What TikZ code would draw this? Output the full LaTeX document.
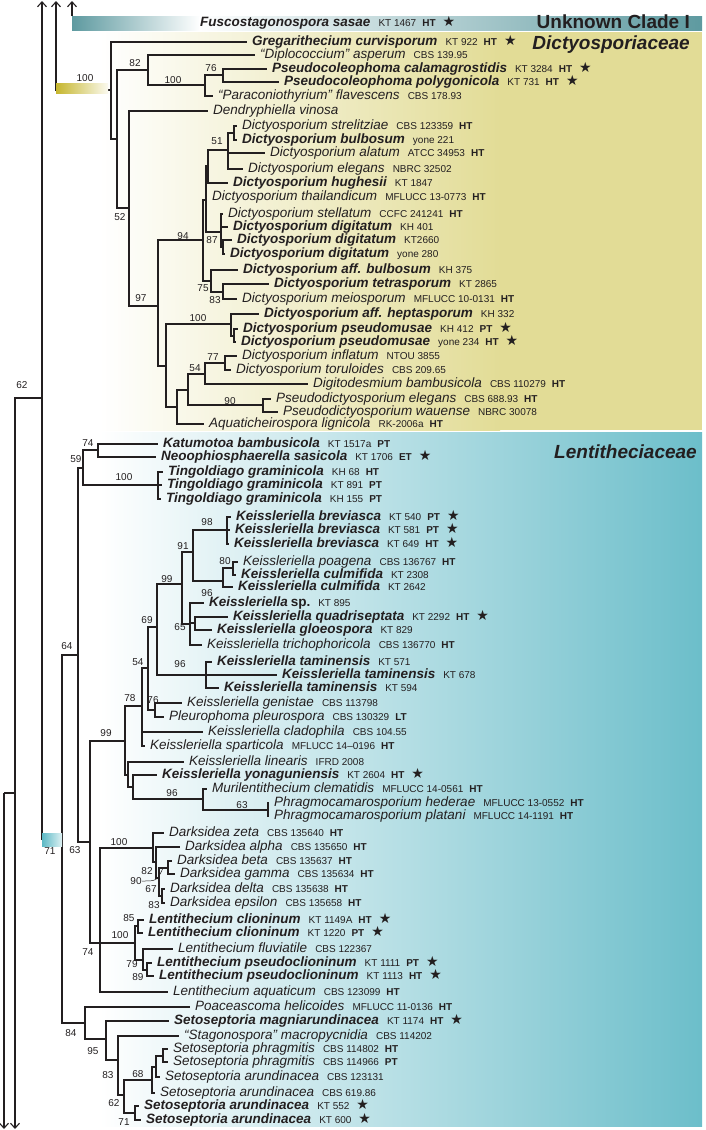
\documentclass[tikz,border=0pt]{standalone}
\usepackage{fontspec}
\setmainfont{Liberation Sans}
\newfontfamily\starfont{DejaVu Sans}
\usepackage{xcolor}
\usetikzlibrary{arrows.meta}

\definecolor{ink}{HTML}{231F20}
\definecolor{dictyel}{HTML}{E2DC96}
\definecolor{lentteal}{HTML}{6CBECA}
\definecolor{unkteal}{HTML}{5E9AA0}
\definecolor{baryel}{HTML}{C6B62E}
\definecolor{barteal}{HTML}{5CB9C5}

% taxon name parts
\newcommand{\tbn}[1]{{\fontsize{13.5}{15}\selectfont\bfseries\itshape #1}}
\newcommand{\tin}[1]{{\fontsize{13.5}{15}\selectfont\itshape #1}}
\newcommand{\tcd}[1]{\hspace{8pt}{\fontsize{10}{12}\selectfont #1}}
\newcommand{\ttp}[1]{\hspace{6pt}{\fontsize{10}{12}\selectfont\bfseries #1}}
\newcommand{\tst}{\hspace{7pt}{\starfont\fontsize{14}{12}\selectfont ★}}

\begin{document}
\begin{tikzpicture}[x=1pt, y=-1pt,
    branch/.style={draw=ink, line width=1.1pt},
    cut/.style={branch, -{Straight Barb[length=5pt,width=9pt]}},
    leaf/.style={anchor=west, inner xsep=5pt, inner ysep=0pt,
                 text height=9.5pt, text depth=2.5pt, text=ink},
    sup/.style={inner sep=0pt, text=ink, font=\fontsize{10}{12}\selectfont},
    fam/.style={anchor=east, inner sep=0pt, text=ink,
                font=\fontsize{19}{22}\selectfont\bfseries}]

    \useasboundingbox (0,0) rectangle (705,1130);

    % =================================================================
    % 1. BACKGROUND BOXES AND THE UNKNOWN CLADE BAR
    % =================================================================
    \shade[left color=white, right color=dictyel] (100,32) rectangle (500,430);
    \fill[dictyel] (499.5,32) rectangle (702,430);
    \shade[left color=white, right color=lentteal] (100,432) rectangle (702,1126);
    \shade[left color=unkteal, right color=white] (72,16) rectangle (200,30);
    \shade[left color=white, right color=unkteal] (199.5,16) rectangle (702,30);

    % =================================================================
    % 2. INTERNAL NODES
    % =================================================================
    % cut branches (continue outside the figure)
    \coordinate (tU) at (72,1);
    \coordinate (uStem) at (72,16);
    \coordinate (tD) at (56,1);
    \coordinate (tP) at (42,1);
    \coordinate (rootP) at (42,398);
    \coordinate (rootR) at (15,793);
    \coordinate (rootQ) at (4,793);
    \coordinate (bR) at (15,1129);
    \coordinate (bQ) at (4,1129);

    % Dictyosporiaceae
    \coordinate (nA) at (111,90);
    \coordinate (nB) at (117,139);
    \coordinate (n82) at (148,70);
    \coordinate (n100a) at (205,85);
    \coordinate (n76) at (223,75);
    \coordinate (n52) at (129,208);
    \coordinate (n97) at (158,306);
    \coordinate (n94) at (203,240);
    \coordinate (nQ) at (206,200);
    \coordinate (nH) at (208,166);
    \coordinate (n51) at (228,150);
    \coordinate (nSB) at (234,133);
    \coordinate (n87) at (221,232);
    \coordinate (nDig) at (223,247);
    \coordinate (n75) at (211,281);
    \coordinate (n83d) at (223,292);
    \coordinate (nZ) at (166,366);
    \coordinate (n100b) at (231,324);
    \coordinate (nPM) at (234,336);
    \coordinate (nY) at (177,407);
    \coordinate (nX) at (188,390);
    \coordinate (n54d) at (205,374);
    \coordinate (n77) at (225,363);
    \coordinate (n90) at (263,405);

    % Lentitheciaceae
    \coordinate (nL71) at (62,839);
    \coordinate (n64) at (78,655);
    \coordinate (n59) at (83,468);
    \coordinate (n74a) at (98,450);
    \coordinate (nTing) at (158,485);
    \coordinate (n63) at (90,842);
    \coordinate (n99) at (125,741);
    \coordinate (n78) at (142,706);
    \coordinate (n54) at (148,668);
    \coordinate (n69) at (157,627);
    \coordinate (n99k) at (182,584);
    \coordinate (n91) at (193,552);
    \coordinate (n98) at (227,530);
    \coordinate (n96k) at (223,581);
    \coordinate (n80) at (233,568);
    \coordinate (nK) at (190,624);
    \coordinate (n65) at (195,623);
    \coordinate (nTam) at (206,675);
    \coordinate (n76l) at (155,710);
    \coordinate (nLin) at (128,775);
    \coordinate (nS) at (133,787);
    \coordinate (n96) at (203,799);
    \coordinate (n63p) at (268,810);
    \coordinate (n74) at (100,943);
    \coordinate (nDark) at (153,848);
    \coordinate (nDa) at (156,862);
    \coordinate (n82l) at (159,878);
    \coordinate (nBG) at (168,868);
    \coordinate (nDE) at (162,896);
    \coordinate (lead90) at (163,868);
    \coordinate (nL100) at (135,943);
    \coordinate (nLc) at (138,926);
    \coordinate (nLf) at (143,960);
    \coordinate (nLp) at (147,970);
    \coordinate (n84) at (85,1023);
    \coordinate (n95) at (106,1039);
    \coordinate (n83s) at (118,1060);
    \coordinate (n62s) at (124,1095);
    \coordinate (n68) at (152,1080);
    \coordinate (nPh2) at (156,1067);
    \coordinate (nPh) at (163,1056);
    \coordinate (n71) at (135,1113);

    % =================================================================
    % 3. TAXA
    % =================================================================
    \node[leaf] (f0) at (195,23) {\tbn{Fuscostagonospora sasae}\tcd{KT 1467}\ttp{HT}\tst};

    \node[leaf] (d1) at (247,42) {\tbn{Gregarithecium curvisporum}\tcd{KT 922}\ttp{HT}\tst};
    \node[leaf] (d2) at (255,55) {\tin{“Diplococcium” asperum}\tcd{CBS 139.95}};
    \node[leaf] (d3) at (267,69) {\tbn{Pseudocoleophoma calamagrostidis}\tcd{KT 3284}\ttp{HT}\tst};
    \node[leaf] (d4) at (279,82) {\tbn{Pseudocoleophoma polygonicola}\tcd{KT 731}\ttp{HT}\tst};
    \node[leaf] (d5) at (213,96) {\tin{“Paraconiothyrium” flavescens}\tcd{CBS 178.93}};
    \node[leaf] (d6) at (208,111) {\tin{Dendryphiella vinosa}};
    \node[leaf] (d7) at (237,126) {\tin{Dictyosporium strelitziae}\tcd{CBS 123359}\ttp{HT}};
    \node[leaf] (d8) at (237,140) {\tbn{Dictyosporium bulbosum}\tcd{yone 221}};
    \node[leaf] (d9) at (265,153) {\tin{Dictyosporium alatum}\tcd{ATCC 34953}\ttp{HT}};
    \node[leaf] (d10) at (243,169) {\tin{Dictyosporium elegans}\tcd{NBRC 32502}};
    \node[leaf] (d11) at (228,183) {\tbn{Dictyosporium hughesii}\tcd{KT 1847}};
    \node[leaf] (d12) at (207,197) {\tin{Dictyosporium thailandicum}\tcd{MFLUCC 13-0773}\ttp{HT}};
    \node[leaf] (d13) at (223,214) {\tin{Dictyosporium stellatum}\tcd{CCFC 241241}\ttp{HT}};
    \node[leaf] (d14) at (228,227) {\tbn{Dictyosporium digitatum}\tcd{KH 401}};
    \node[leaf] (d15) at (232,240) {\tbn{Dictyosporium digitatum}\tcd{KT2660}};
    \node[leaf] (d16) at (225,254) {\tbn{Dictyosporium digitatum}\tcd{yone 280}};
    \node[leaf] (d17) at (238,270) {\tbn{Dictyosporium aff. bulbosum}\tcd{KH 375}};
    \node[leaf] (d18) at (269,284) {\tbn{Dictyosporium tetrasporum}\tcd{KT 2865}};
    \node[leaf] (d19) at (237,299) {\tin{Dictyosporium meiosporum}\tcd{MFLUCC 10-0131}\ttp{HT}};
    \node[leaf] (d20) at (259,314) {\tbn{Dictyosporium aff. heptasporum}\tcd{KH 332}};
    \node[leaf] (d21) at (238,329) {\tbn{Dictyosporium pseudomusae}\tcd{KH 412}\ttp{PT}\tst};
    \node[leaf] (d22) at (236,342) {\tbn{Dictyosporium pseudomusae}\tcd{yone 234}\ttp{HT}\tst};
    \node[leaf] (d23) at (237,356) {\tin{Dictyosporium inflatum}\tcd{NTOU 3855}};
    \node[leaf] (d24) at (231,370) {\tin{Dictyosporium toruloides}\tcd{CBS 209.65}};
    \node[leaf] (d25) at (308,384) {\tin{Digitodesmium bambusicola}\tcd{CBS 110279}\ttp{HT}};
    \node[leaf] (d26) at (271,399) {\tin{Pseudodictyosporium elegans}\tcd{CBS 688.93}\ttp{HT}};
    \node[leaf] (d27) at (278,412) {\tin{Pseudodictyosporium wauense}\tcd{NBRC 30078}};
    \node[leaf] (d28) at (204,424) {\tin{Aquaticheirospora lignicola}\tcd{RK-2006a}\ttp{HT}};

    \node[leaf] (l1) at (158,444) {\tbn{Katumotoa bambusicola}\tcd{KT 1517a}\ttp{PT}};
    \node[leaf] (l2) at (156,457) {\tbn{Neoophiosphaerella sasicola}\tcd{KT 1706}\ttp{ET}\tst};
    \node[leaf] (l3) at (163,472) {\tbn{Tingoldiago graminicola}\tcd{KH 68}\ttp{HT}};
    \node[leaf] (l4) at (162,485) {\tbn{Tingoldiago graminicola}\tcd{KT 891}\ttp{PT}};
    \node[leaf] (l5) at (161,499) {\tbn{Tingoldiago graminicola}\tcd{KH 155}\ttp{PT}};
    \node[leaf] (l6) at (231,517) {\tbn{Keissleriella breviasca}\tcd{KT 540}\ttp{PT}\tst};
    \node[leaf] (l7) at (230,530) {\tbn{Keissleriella breviasca}\tcd{KT 581}\ttp{PT}\tst};
    \node[leaf] (l8) at (229,544) {\tbn{Keissleriella breviasca}\tcd{KT 649}\ttp{HT}\tst};
    \node[leaf] (l9) at (238,562) {\tin{Keissleriella poagena}\tcd{CBS 136767}\ttp{HT}};
    \node[leaf] (l10) at (236,575) {\tbn{Keissleriella culmifida}\tcd{KT 2308}};
    \node[leaf] (l11) at (233,587) {\tbn{Keissleriella culmifida}\tcd{KT 2642}};
    \node[leaf] (l12) at (204,603) {\tbn{Keissleriella} {\fontsize{13.5}{15}\selectfont\bfseries sp.}\tcd{KT 895}};
    \node[leaf] (l13) at (228,617) {\tbn{Keissleriella quadriseptata}\tcd{KT 2292}\ttp{HT}\tst};
    \node[leaf] (l14) at (212,630) {\tbn{Keissleriella gloeospora}\tcd{KT 829}};
    \node[leaf] (l15) at (202,645) {\tin{Keissleriella trichophoricola}\tcd{CBS 136770}\ttp{HT}};
    \node[leaf] (l16) at (212,662) {\tbn{Keissleriella taminensis}\tcd{KT 571}};
    \node[leaf] (l17) at (277,675) {\tbn{Keissleriella taminensis}\tcd{KT 678}};
    \node[leaf] (l18) at (219,688) {\tbn{Keissleriella taminensis}\tcd{KT 594}};
    \node[leaf] (l19) at (182,703) {\tin{Keissleriella genistae}\tcd{CBS 113798}};
    \node[leaf] (l20) at (164,717) {\tin{Pleurophoma pleurospora}\tcd{CBS 130329}\ttp{LT}};
    \node[leaf] (l21) at (203,732) {\tin{Keissleriella cladophila}\tcd{CBS 104.55}};
    \node[leaf] (l22) at (145,746) {\tin{Keissleriella sparticola}\tcd{MFLUCC 14–0196}\ttp{HT}};
    \node[leaf] (l23) at (184,762) {\tin{Keissleriella linearis}\tcd{IFRD 2008}};
    \node[leaf] (l24) at (157,775) {\tbn{Keissleriella yonaguniensis}\tcd{KT 2604}\ttp{HT}\tst};
    \node[leaf] (l25) at (207,789) {\tin{Murilentithecium clematidis}\tcd{MFLUCC 14-0561}\ttp{HT}};
    \node[leaf] (l26) at (269,803) {\tin{Phragmocamarosporium hederae}\tcd{MFLUCC 13-0552}\ttp{HT}};
    \node[leaf] (l27) at (269,816) {\tin{Phragmocamarosporium platani}\tcd{MFLUCC 14-1191}\ttp{HT}};
    \node[leaf] (l28) at (164,833) {\tin{Darksidea zeta}\tcd{CBS 135640}\ttp{HT}};
    \node[leaf] (l29) at (180,847) {\tin{Darksidea alpha}\tcd{CBS 135650}\ttp{HT}};
    \node[leaf] (l30) at (172,861) {\tin{Darksidea beta}\tcd{CBS 135637}\ttp{HT}};
    \node[leaf] (l31) at (175,874) {\tin{Darksidea gamma}\tcd{CBS 135634}\ttp{HT}};
    \node[leaf] (l32) at (165,889) {\tin{Darksidea delta}\tcd{CBS 135638}\ttp{HT}};
    \node[leaf] (l33) at (165,903) {\tin{Darksidea epsilon}\tcd{CBS 135658}\ttp{HT}};
    \node[leaf] (l34) at (144,920) {\tbn{Lentithecium clioninum}\tcd{KT 1149A}\ttp{HT}\tst};
    \node[leaf] (l35) at (143,933) {\tbn{Lentithecium clioninum}\tcd{KT 1220}\ttp{PT}\tst};
    \node[leaf] (l36) at (173,949) {\tin{Lentithecium fluviatile}\tcd{CBS 122367}};
    \node[leaf] (l37) at (152,963) {\tbn{Lentithecium pseudoclioninum}\tcd{KT 1111}\ttp{PT}\tst};
    \node[leaf] (l38) at (154,976) {\tbn{Lentithecium pseudoclioninum}\tcd{KT 1113}\ttp{HT}\tst};
    \node[leaf] (l39) at (168,992) {\tin{Lentithecium aquaticum}\tcd{CBS 123099}\ttp{HT}};
    \node[leaf] (l40) at (190,1007) {\tin{Poaceascoma helicoides}\tcd{MFLUCC 11-0136}\ttp{HT}};
    \node[leaf] (l41) at (169,1021) {\tbn{Setoseptoria magniarundinacea}\tcd{KT 1174}\ttp{HT}\tst};
    \node[leaf] (l42) at (179,1036) {\tin{“Stagonospora” macropycnidia}\tcd{CBS 114202}};
    \node[leaf] (l43) at (168,1049) {\tin{Setoseptoria phragmitis}\tcd{CBS 114802}\ttp{HT}};
    \node[leaf] (l44) at (168,1062) {\tin{Setoseptoria phragmitis}\tcd{CBS 114966}\ttp{PT}};
    \node[leaf] (l45) at (160,1077) {\tin{Setoseptoria arundinacea}\tcd{CBS 123131}};
    \node[leaf] (l46) at (155,1093) {\tin{Setoseptoria arundinacea}\tcd{CBS 619.86}};
    \node[leaf] (l47) at (139,1106) {\tbn{Setoseptoria arundinacea}\tcd{KT 552}\tst};
    \node[leaf] (l48) at (141,1120) {\tbn{Setoseptoria arundinacea}\tcd{KT 600}\tst};

    % =================================================================
    % 4. BRANCHES
    % =================================================================
    % cut branches with arrows
    \draw[cut] (uStem) -- (tU);
    \draw[cut] (nA) -| (tD);
    \draw[cut] (rootP) -- (tP);
    \draw[branch] (rootP) |- (nL71);
    \draw[branch] (rootR) |- (rootP);
    \draw[cut] (rootR) -- (bR);
    \draw[branch] (rootQ) -- (rootR);
    \draw[cut] (rootQ) -- (bQ);

    % Dictyosporiaceae
    \draw[branch] (nA) |- (d1);  \draw[branch] (nA) |- (nB);
    \draw[branch] (nB) |- (n82); \draw[branch] (nB) |- (n52);
    \draw[branch] (n82) |- (d2); \draw[branch] (n82) |- (n100a);
    \draw[branch] (n100a) |- (n76); \draw[branch] (n100a) |- (d5);
    \draw[branch] (n76) |- (d3); \draw[branch] (n76) |- (d4);
    \draw[branch] (n52) |- (d6); \draw[branch] (n52) |- (n97);
    \draw[branch] (n97) |- (n94); \draw[branch] (n97) |- (nZ);
    \draw[branch] (n94) |- (nQ); \draw[branch] (n94) |- (n75);
    \draw[branch] (nQ) |- (nH); \draw[branch] (nQ) |- (d12); \draw[branch] (nQ) |- (n87);
    \draw[branch] (nH) |- (n51); \draw[branch] (nH) |- (d11);
    \draw[branch] (n51) |- (nSB); \draw[branch] (n51) |- (d9); \draw[branch] (n51) |- (d10);
    \draw[branch] (nSB) |- (d7); \draw[branch] (nSB) |- (d8);
    \draw[branch] (n87) |- (d13); \draw[branch] (n87) |- (d14); \draw[branch] (n87) |- (nDig);
    \draw[branch] (nDig) |- (d15); \draw[branch] (nDig) |- (d16);
    \draw[branch] (n75) |- (d17); \draw[branch] (n75) |- (n83d);
    \draw[branch] (n83d) |- (d18); \draw[branch] (n83d) |- (d19);
    \draw[branch] (nZ) |- (n100b); \draw[branch] (nZ) |- (nY);
    \draw[branch] (n100b) |- (d20); \draw[branch] (n100b) |- (nPM);
    \draw[branch] (nPM) |- (d21); \draw[branch] (nPM) |- (d22);
    \draw[branch] (nY) |- (nX); \draw[branch] (nY) |- (d28);
    \draw[branch] (nX) |- (n54d); \draw[branch] (nX) |- (n90);
    \draw[branch] (n54d) |- (n77); \draw[branch] (n54d) |- (d25);
    \draw[branch] (n77) |- (d23); \draw[branch] (n77) |- (d24);
    \draw[branch] (n90) |- (d26); \draw[branch] (n90) |- (d27);

    % Lentitheciaceae
    \draw[branch] (nL71) |- (n64); \draw[branch] (nL71) |- (n84);
    \draw[branch] (n64) |- (n59); \draw[branch] (n64) |- (n63);
    \draw[branch] (n59) |- (n74a); \draw[branch] (n59) |- (nTing);
    \draw[branch] (n74a) |- (l1); \draw[branch] (n74a) |- (l2);
    \draw[branch] (nTing) |- (l3); \draw[branch] (nTing) |- (l4); \draw[branch] (nTing) |- (l5);
    \draw[branch] (n63) |- (n99); \draw[branch] (n63) |- (n74);
    \draw[branch] (n99) |- (n78); \draw[branch] (n99) |- (nLin);
    \draw[branch] (n78) |- (n54); \draw[branch] (n78) |- (l21); \draw[branch] (n78) |- (l22);
    \draw[branch] (n54) |- (n69); \draw[branch] (n54) |- (n76l);
    \draw[branch] (n69) |- (n99k); \draw[branch] (n69) |- (nTam);
    \draw[branch] (n99k) |- (n91); \draw[branch] (n99k) |- (nK);
    \draw[branch] (n91) |- (n98); \draw[branch] (n91) |- (n96k);
    \draw[branch] (n98) |- (l6); \draw[branch] (n98) |- (l7); \draw[branch] (n98) |- (l8);
    \draw[branch] (n96k) |- (n80); \draw[branch] (n96k) |- (l11);
    \draw[branch] (n80) |- (l9); \draw[branch] (n80) |- (l10);
    \draw[branch] (nK) |- (l12); \draw[branch] (nK) |- (n65); \draw[branch] (nK) |- (l15);
    \draw[branch] (n65) |- (l13); \draw[branch] (n65) |- (l14);
    \draw[branch] (nTam) |- (l16); \draw[branch] (nTam) |- (l17); \draw[branch] (nTam) |- (l18);
    \draw[branch] (n76l) |- (l19); \draw[branch] (n76l) |- (l20);
    \draw[branch] (nLin) |- (l23); \draw[branch] (nLin) |- (nS);
    \draw[branch] (nS) |- (l24); \draw[branch] (nS) |- (n96);
    \draw[branch] (n96) |- (l25); \draw[branch] (n96) |- (n63p);
    \draw[branch] (n63p) |- (l26); \draw[branch] (n63p) |- (l27);
    \draw[branch] (n74) |- (nDark); \draw[branch] (n74) |- (nL100); \draw[branch] (n74) |- (l39);
    \draw[branch] (nDark) |- (l28); \draw[branch] (nDark) |- (nDa);
    \draw[branch] (nDa) |- (l29); \draw[branch] (nDa) |- (n82l);
    \draw[branch] (n82l) |- (nBG); \draw[branch] (n82l) |- (nDE);
    \draw[branch] (nBG) |- (l30); \draw[branch] (nBG) |- (l31);
    \draw[branch] (nDE) |- (l32); \draw[branch] (nDE) |- (l33);
    \draw[branch] (nL100) |- (nLc); \draw[branch] (nL100) |- (nLf);
    \draw[branch] (nLc) |- (l34); \draw[branch] (nLc) |- (l35);
    \draw[branch] (nLf) |- (l36); \draw[branch] (nLf) |- (nLp);
    \draw[branch] (nLp) |- (l37); \draw[branch] (nLp) |- (l38);
    \draw[branch] (n84) |- (l40); \draw[branch] (n84) |- (n95);
    \draw[branch] (n95) |- (l41); \draw[branch] (n95) |- (n83s);
    \draw[branch] (n83s) |- (l42); \draw[branch] (n83s) |- (n62s);
    \draw[branch] (n62s) |- (n68); \draw[branch] (n62s) |- (n71);
    \draw[branch] (n68) |- (nPh2); \draw[branch] (n68) |- (l46);
    \draw[branch] (nPh2) |- (nPh); \draw[branch] (nPh2) |- (l45);
    \draw[branch] (nPh) |- (l43); \draw[branch] (nPh) |- (l44);
    \draw[branch] (n71) |- (l47); \draw[branch] (n71) |- (l48);

    % =================================================================
    % 5. FAMILY STEM BARS
    % =================================================================
    \shade[left color=baryel, right color=white!85!dictyel] (56,83) rectangle (108,93);
    \shade[left color=barteal, right color=white!80!barteal] (42,833) rectangle (62,846);

    % =================================================================
    % 6. SUPPORT VALUES
    % =================================================================
    \node[sup] (s62) at (22,385) {62};
    \node[sup] (s100f) at (85,78) {100};
    \node[sup] (s82) at (135,63) {82};
    \node[sup] (s76) at (211,68) {76};
    \node[sup] (s100a) at (173,80) {100};
    \node[sup] (s51) at (217,141) {51};
    \node[sup] (s52) at (120,217) {52};
    \node[sup] (s94) at (183,236) {94};
    \node[sup] (s87) at (212,240) {87};
    \node[sup] (s75) at (203,288) {75};
    \node[sup] (s83d) at (215,300) {83};
    \node[sup] (s97) at (141,298) {97};
    \node[sup] (s100b) at (198,318) {100};
    \node[sup] (s77) at (213,357) {77};
    \node[sup] (s54d) at (195,368) {54};
    \node[sup] (s90) at (230,401) {90};

    \node[sup] (s74a) at (88,443) {74};
    \node[sup] (s59) at (76,459) {59};
    \node[sup] (s100t) at (124,477) {100};
    \node[sup] (s98) at (207,522) {98};
    \node[sup] (s91) at (183,546) {91};
    \node[sup] (s80) at (225,561) {80};
    \node[sup] (s99k) at (167,579) {99};
    \node[sup] (s96k) at (207,593) {96};
    \node[sup] (s69) at (147,620) {69};
    \node[sup] (s65) at (180,627) {65};
    \node[sup] (s64) at (67,646) {64};
    \node[sup] (s96t) at (180,664) {96};
    \node[sup] (s54) at (138,662) {54};
    \node[sup] (s78) at (130,698) {78};
    \node[sup] (s76l) at (153,700) {76};
    \node[sup] (s99) at (106,733) {99};
    \node[sup] (s96) at (172,793) {96};
    \node[sup] (s63p) at (242,805) {63};
    \node[sup] (s100d) at (119,842) {100};
    \node[sup] (s71) at (50,851) {71};
    \node[sup] (s63) at (75,850) {63};
    \node[sup] (s82l) at (147,871) {82};
    \node[sup] (s90l) at (136,881) {90};
    \node[sup] (s67) at (151,889) {67};
    \node[sup] (s83l) at (154,905) {83};
    \node[sup] (s85) at (129,918) {85};
    \node[sup] (s100L) at (120,935) {100};
    \node[sup] (s74) at (88,952) {74};
    \node[sup] (s79) at (132,964) {79};
    \node[sup] (s89) at (138,977) {89};
    \node[sup] (s84) at (71,1033) {84};
    \node[sup] (s95) at (93,1051) {95};
    \node[sup] (s83s) at (108,1075) {83};
    \node[sup] (s68) at (138,1074) {68};
    \node[sup] (s62s) at (114,1103) {62};
    \node[sup] (s71s) at (124,1122) {71};

    % leader from 90 to its node
    \draw[ink, line width=0.5pt] (s90l.east) .. controls (157,881) .. (lead90);

    % =================================================================
    % 7. FAMILY NAMES
    % =================================================================
    \node[fam] (fU) at (690,22) {Unknown Clade I};
    \node[fam] (fD) at (690,45) {\itshape Dictyosporiaceae};
    \node[fam] (fL) at (697,452) {\itshape Lentitheciaceae};

\end{tikzpicture}
\end{document}
